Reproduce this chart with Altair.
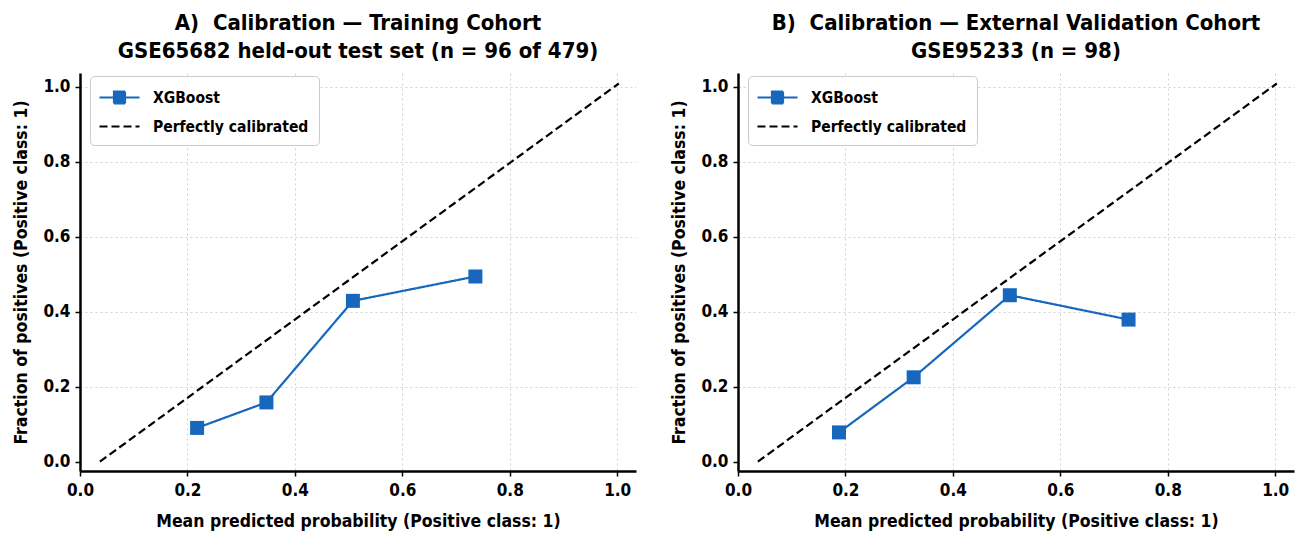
import altair as alt
import pandas as pd

# ---------------- data ----------------
series_names = ["XGBoost", "Perfectly calibrated"]

a_pred = [0.218, 0.347, 0.508, 0.736]
a_frac = [0.090, 0.158, 0.429, 0.494]

b_pred = [0.188, 0.327, 0.506, 0.727]
b_frac = [0.078, 0.225, 0.444, 0.379]

ref_x = [0.037, 1.003]
ref_y = [0.0, 1.009]

x_ticks = [0.0, 0.2, 0.4, 0.6, 0.8, 1.0]
y_ticks = [0.0, 0.2, 0.4, 0.6, 0.8, 1.0]

titles_a = ["A)\u00a0 Calibration — Training Cohort", "GSE65682 held-out test set (n = 96 of 479)"]
titles_b = ["B)\u00a0 Calibration — External Validation Cohort", "GSE95233 (n = 98)"]
x_title = "Mean predicted probability (Positive class: 1)"
y_title = "Fraction of positives (Positive class: 1)"

# ---------------- style ----------------
FONT = "DejaVu Sans Condensed, Liberation Sans Narrow, DejaVu Sans, sans-serif"
BLUE = "#1767bd"
GRID = {"condition": {"test": "datum.value === 0", "value": "transparent"}, "value": "#d2d2d2"}

XGB_PATH = "M-2,0H2M-0.55,-0.6H0.55V0.6H-0.55Z"
REF_PATH = "M-2,0H2"

color_scale = alt.Scale(domain=series_names, range=[BLUE, "black"])
dash_scale = alt.Scale(domain=series_names, range=[[1, 0], [8, 4]])
shape_scale = alt.Scale(domain=series_names, range=[XGB_PATH, REF_PATH])


def make_legend():
    return alt.Legend(
        title=None,
        orient="none",
        legendX=10,
        legendY=3,
        padding=10,
        strokeColor="#cccccc",
        fillColor="white",
        cornerRadius=4,
        labelFont=FONT,
        labelFontSize=15.5,
        labelFontWeight="bold",
        labelColor="black",
        labelLimit=400,
        symbolSize=400,
        symbolOffset=8,
        labelOffset=22,
        rowPadding=7,
        symbolStrokeWidth=2.2,
        symbolOpacity=1,
    )


def panel(pred, frac, title_lines):
    curve = pd.DataFrame({"x": pred, "y": frac, "series": series_names[0],
                          "order": list(range(len(pred)))})
    ref = pd.DataFrame({"x": ref_x, "y": ref_y, "series": series_names[1],
                        "order": [0, 1]})
    lines_df = pd.concat([curve, ref], ignore_index=True)

    x_enc = alt.X(
        "x:Q",
        scale=alt.Scale(domain=[0.0, 1.035], nice=False, zero=False),
        axis=alt.Axis(values=x_ticks, format=".1f", title=x_title, gridColor=GRID,
                      labelPadding=6, titlePadding=14, labelFlush=False),
    )
    y_enc = alt.Y(
        "y:Q",
        scale=alt.Scale(domain=[-0.025, 1.037], nice=False, zero=False),
        axis=alt.Axis(values=y_ticks, format=".1f", title=y_title, gridColor=GRID,
                      labelPadding=5, titlePadding=12, labelFlush=False),
    )

    lines = alt.Chart(lines_df).mark_line(strokeWidth=2.2).encode(
        x=x_enc,
        y=y_enc,
        color=alt.Color("series:N", scale=color_scale, legend=make_legend()),
        strokeDash=alt.StrokeDash("series:N", scale=dash_scale, legend=make_legend()),
        order="order:Q",
    )

    points = alt.Chart(curve).mark_square(size=196, color=BLUE, opacity=1).encode(
        x=alt.X("x:Q"),
        y=alt.Y("y:Q"),
    )

    # legend carrier: no rows drawn, only supplies the merged legend symbols
    legend_layer = alt.Chart(lines_df).transform_filter("false").mark_point(
        filled=True, strokeWidth=2.2, opacity=1
    ).encode(
        x=alt.X("x:Q"),
        y=alt.Y("y:Q"),
        color=alt.Color("series:N", scale=color_scale, legend=make_legend()),
        fill=alt.Fill("series:N", scale=color_scale, legend=make_legend()),
        stroke=alt.Stroke("series:N", scale=color_scale, legend=make_legend()),
        strokeDash=alt.StrokeDash("series:N", scale=dash_scale, legend=make_legend()),
        shape=alt.Shape("series:N", scale=shape_scale, legend=make_legend()),
    )

    return alt.layer(lines, points, legend_layer).properties(
        width=556,
        height=398,
        title=alt.TitleParams(
            text=title_lines,
            font=FONT,
            fontSize=22,
            fontWeight="bold",
            anchor="middle",
            offset=10,
            lineHeight=28,
            color="black",
        ),
    )


chart = alt.hconcat(
    panel(a_pred, a_frac, titles_a),
    panel(b_pred, b_frac, titles_b),
    spacing=34,
).resolve_scale(
    color="independent", fill="independent", stroke="independent",
    strokeDash="independent", shape="independent",
).resolve_legend(
    color="independent", fill="independent", stroke="independent",
    strokeDash="independent", shape="independent",
).properties(
    padding={"left": 12, "top": 12, "right": 5, "bottom": 5},
    background="white",
).configure_view(
    stroke=None
).configure_axis(
    domainColor="black",
    domainWidth=2.5,
    tickColor="black",
    tickWidth=1.5,
    tickSize=5,
    labelFont=FONT,
    labelFontSize=17,
    labelFontWeight="bold",
    labelColor="black",
    titleFont=FONT,
    titleFontSize=17.5,
    titleFontWeight="bold",
    titleColor="black",
    gridDash=[2, 3],
    gridWidth=1,
)

chart.save("out.html", embed_options={"renderer": "svg", "actions": False})
